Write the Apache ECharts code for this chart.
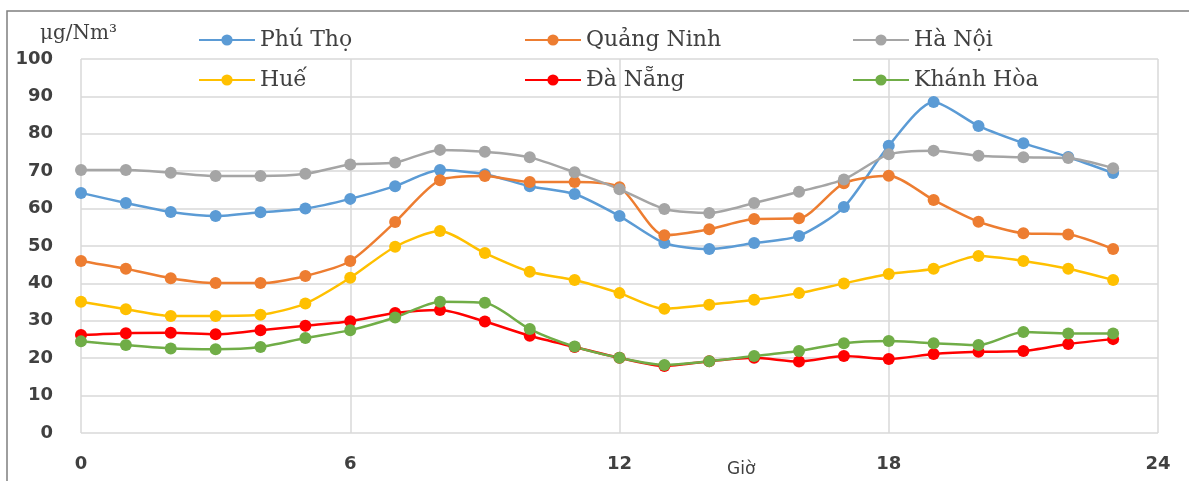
<!DOCTYPE html>
<html>
<head>
<meta charset="utf-8">
<script src="https://cdn.jsdelivr.net/npm/echarts@6/dist/echarts.min.js"></script>
<style>
  html, body { margin: 0; padding: 0; background: #fff; }
  #chart { width: 1189px; height: 481px; }
</style>
</head>
<body>
<div id="chart"></div>
<script>
// giờ trong ngày
const hours = [0, 1, 2, 3, 4, 5, 6, 7, 8, 9, 10, 11, 12, 13, 14, 15, 16, 17, 18, 19, 20, 21, 22, 23]
const xTicks = [0, 6, 12, 18, 24]
const yTicks = [0, 10, 20, 30, 40, 50, 60, 70, 80, 90, 100]

const phuTho = [64.2, 61.5, 59.1, 58.0, 59.0, 60.0, 62.6, 66.0, 70.3, 69.2, 66.0, 63.9, 58.0, 50.8, 49.2, 50.8, 52.7, 60.4, 76.8, 88.5, 82.1, 77.5, 73.8, 69.5]
const quangNinh = [46.0, 43.9, 41.4, 40.1, 40.1, 42.0, 46.0, 56.4, 67.6, 68.7, 67.1, 67.1, 65.7, 52.9, 54.5, 57.2, 57.4, 66.8, 68.8, 62.3, 56.5, 53.4, 53.1, 49.2]
const haNoi = [70.3, 70.3, 69.6, 68.7, 68.7, 69.3, 71.8, 72.3, 75.7, 75.2, 73.7, 69.7, 65.2, 59.9, 58.8, 61.5, 64.5, 67.8, 74.5, 75.5, 74.1, 73.7, 73.5, 70.8]
const hue = [35.1, 33.1, 31.3, 31.3, 31.6, 34.6, 41.5, 49.8, 54.0, 48.1, 43.1, 40.9, 37.4, 33.2, 34.3, 35.6, 37.4, 40.0, 42.5, 43.9, 47.3, 46.0, 43.9, 40.9]
const daNang = [26.2, 26.7, 26.8, 26.4, 27.5, 28.7, 29.9, 32.1, 32.9, 29.8, 26.0, 23.0, 20.1, 17.9, 19.2, 20.1, 19.1, 20.6, 19.8, 21.1, 21.7, 21.9, 23.8, 25.1]
const khanhHoa = [24.5, 23.5, 22.6, 22.4, 23.0, 25.4, 27.5, 30.9, 35.1, 34.8, 27.8, 23.1, 20.1, 18.2, 19.2, 20.6, 21.9, 24.0, 24.6, 24.0, 23.5, 27.0, 26.6, 26.6]

const seriesList = [
  { name: 'Phú Thọ', data: phuTho, color: '#5b9bd5' },
  { name: 'Quảng Ninh', data: quangNinh, color: '#ed7d31' },
  { name: 'Hà Nội', data: haNoi, color: '#a5a5a5' },
  { name: 'Huế', data: hue, color: '#ffc000' },
  { name: 'Đà Nẵng', data: daNang, color: '#ff0000' },
  { name: 'Khánh Hòa', data: khanhHoa, color: '#70ad47' }
]

const chart = echarts.init(document.getElementById('chart'))

// chú giải: 3 cột, mỗi cột 2 dòng
const legendCols = [
  { left: 193, names: ['Phú Thọ', 'Huế'] },
  { left: 519, names: ['Quảng Ninh', 'Đà Nẵng'] },
  { left: 847, names: ['Hà Nội', 'Khánh Hòa'] }
]

const option = {
  backgroundColor: '#fff',
  animation: false,
  grid: { left: 81, right: 31, top: 59, bottom: 48 },
  legend: legendCols.map(col => ({
    data: col.names,
    orient: 'vertical',
    left: col.left,
    top: 24,
    itemGap: 18,
    itemWidth: 56,
    itemHeight: 14,
    textStyle: { fontFamily: 'DejaVu Serif', fontSize: 22, color: '#404040' }
  })),
  xAxis: {
    type: 'value',
    min: 0,
    max: 24,
    interval: 6,
    axisLine: { show: false },
    axisTick: { show: false },
    splitLine: { show: true, lineStyle: { color: '#d9d9d9', width: 1.5 } },
    axisLabel: {
      margin: 22,
      fontFamily: 'DejaVu Sans',
      fontWeight: 'bold',
      fontSize: 18,
      color: '#404040',
      formatter: v => xTicks.includes(v) ? String(v) : ''
    }
  },
  yAxis: {
    type: 'value',
    min: 0,
    max: 100,
    interval: 10,
    axisLine: { show: false },
    axisTick: { show: false },
    splitLine: { show: true, lineStyle: { color: '#d9d9d9', width: 1.5 } },
    axisLabel: {
      margin: 28,
      fontFamily: 'DejaVu Sans',
      fontWeight: 'bold',
      fontSize: 18,
      color: '#404040',
      formatter: v => yTicks.includes(v) ? String(v) : ''
    }
  },
  graphic: [
    // khung ngoài
    {
      type: 'polyline',
      shape: { points: [[7, 481], [7, 11], [1189, 11]] },
      style: { stroke: '#7f7f7f', lineWidth: 1.5, fill: null }
    },
    {
      type: 'text',
      left: 40,
      top: 24,
      style: { text: 'μg/Nm³', fontFamily: 'DejaVu Serif', fontSize: 20, fill: '#404040' }
    },
    {
      type: 'text',
      left: 727,
      top: 461,
      style: { text: 'Giờ', fontFamily: 'DejaVu Sans', fontSize: 17, fill: '#404040' }
    }
  ],
  series: seriesList.map(s => ({
    name: s.name,
    type: 'line',
    smooth: 0.25,
    symbol: 'circle',
    symbolSize: 12,
    data: hours.map((h, i) => [h, s.data[i]]),
    itemStyle: { color: s.color },
    lineStyle: { color: s.color, width: 2.5 }
  }))
}

chart.setOption(option)
</script>
</body>
</html>
